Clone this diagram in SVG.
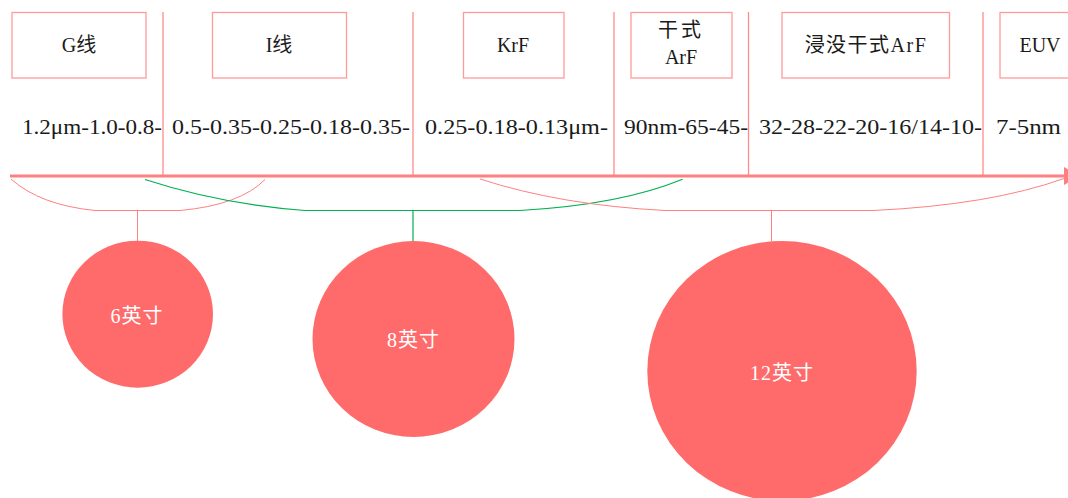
<svg xmlns="http://www.w3.org/2000/svg" width="1068" height="498" viewBox="0 0 1068 498">
<style>
.box{fill:#fff;stroke:#ff9a9a;stroke-width:1.3}
.lbl{font-family:"Liberation Serif","Noto Sans CJK SC",serif;font-size:20px;fill:#1a1a1a;text-anchor:middle}
.num{font-family:"Liberation Serif","Noto Sans CJK SC",serif;font-size:22px;fill:#1a1a1a}
.sep{stroke:#ff8a8a;stroke-width:1.3;fill:none}
.pk{stroke:#ff8080;stroke-width:1;fill:none}
.gn{stroke:#00b050;stroke-width:1.2;fill:none}
.circ{fill:#ff6b6b}
.ct{font-family:"Liberation Serif","Noto Sans CJK SC",serif;font-size:20px;fill:#fff;text-anchor:middle}
</style>
<defs>
<marker id="arr" markerWidth="16" markerHeight="18" refX="1" refY="9" orient="auto" markerUnits="userSpaceOnUse">
<path d="M0,0 L16,9 L0,18 Z" fill="#ff8080"/>
</marker>
</defs>
<rect width="1068" height="498" fill="#fff"/>
<g id="separators">
<line class="sep" x1="163" y1="12" x2="163" y2="176"/>
<line class="sep" x1="413" y1="12" x2="413" y2="176"/>
<line class="sep" x1="614" y1="12" x2="614" y2="176"/>
<line class="sep" x1="748.5" y1="12" x2="748.5" y2="176"/>
<line class="sep" x1="983" y1="12" x2="983" y2="176"/>
</g>
<g id="n-g"><rect class="box" x="12" y="12.5" width="134" height="65.5"/><text class="lbl" x="79" y="52">G线</text></g>
<g id="n-i"><rect class="box" x="212.5" y="12.5" width="134" height="65.5"/><text class="lbl" x="279" y="52">I线</text></g>
<g id="n-krf"><rect class="box" x="463.5" y="12.5" width="100.5" height="65.5"/><text class="lbl" x="513" y="52">KrF</text></g>
<g id="n-arf"><rect class="box" x="631" y="12.5" width="101" height="65.5"/><text class="lbl" x="681" y="37" letter-spacing="3">干式</text><text class="lbl" x="681" y="64">ArF</text></g>
<g id="n-imm"><rect class="box" x="782" y="12.5" width="167.5" height="65.5"/><text class="lbl" x="866" y="52" letter-spacing="1.5">浸没干式ArF</text></g>
<g id="n-euv"><rect class="box" x="1000" y="12.5" width="80" height="65.5"/><text class="lbl" x="1040" y="52">EUV</text></g>
<g id="nums">
<text class="num" x="22" y="134" textLength="140" lengthAdjust="spacingAndGlyphs">1.2μm-1.0-0.8-</text>
<text class="num" x="172" y="134" textLength="238" lengthAdjust="spacingAndGlyphs">0.5-0.35-0.25-0.18-0.35-</text>
<text class="num" x="425" y="134" textLength="183" lengthAdjust="spacingAndGlyphs">0.25-0.18-0.13μm-</text>
<text class="num" x="624" y="134" textLength="124" lengthAdjust="spacingAndGlyphs">90nm-65-45-</text>
<text class="num" x="759" y="134" textLength="223" lengthAdjust="spacingAndGlyphs">32-28-22-20-16/14-10-</text>
<text class="num" x="996" y="134" textLength="65" lengthAdjust="spacingAndGlyphs">7-5nm</text>
</g>
<g id="connectors">
<line x1="10" y1="176" x2="1065" y2="176" stroke="#ff8080" stroke-width="3.2" marker-end="url(#arr)"/>
<path class="pk" d="M11,179 Q40,205 95,210.5 L180,210.5 Q240,205 265,179.5"/>
<line class="pk" x1="137.5" y1="210.5" x2="137.5" y2="241"/>
<path class="gn" d="M145,179.5 Q220,204 305,210.5 L520,210.5 Q620,205 682.5,179.3"/>
<line class="gn" x1="413" y1="210.5" x2="413" y2="241"/>
<path class="pk" d="M480,179 Q560,205 665,210.5 L873,210.5 Q990,205 1064,178.5"/>
<line class="pk" x1="771.5" y1="210.5" x2="771.5" y2="241"/>
</g>
<g id="c6"><ellipse class="circ" cx="137.7" cy="314.2" rx="75.3" ry="73.5"/><text class="ct" x="137" y="323" letter-spacing="1">6英寸</text></g>
<g id="c8"><ellipse class="circ" cx="413.5" cy="339" rx="101" ry="98"/><text class="ct" x="413.5" y="347" letter-spacing="1">8英寸</text></g>
<g id="c12"><ellipse class="circ" cx="782" cy="371" rx="134.7" ry="130"/><text class="ct" x="782" y="380" letter-spacing="1">12英寸</text></g>
</svg>
